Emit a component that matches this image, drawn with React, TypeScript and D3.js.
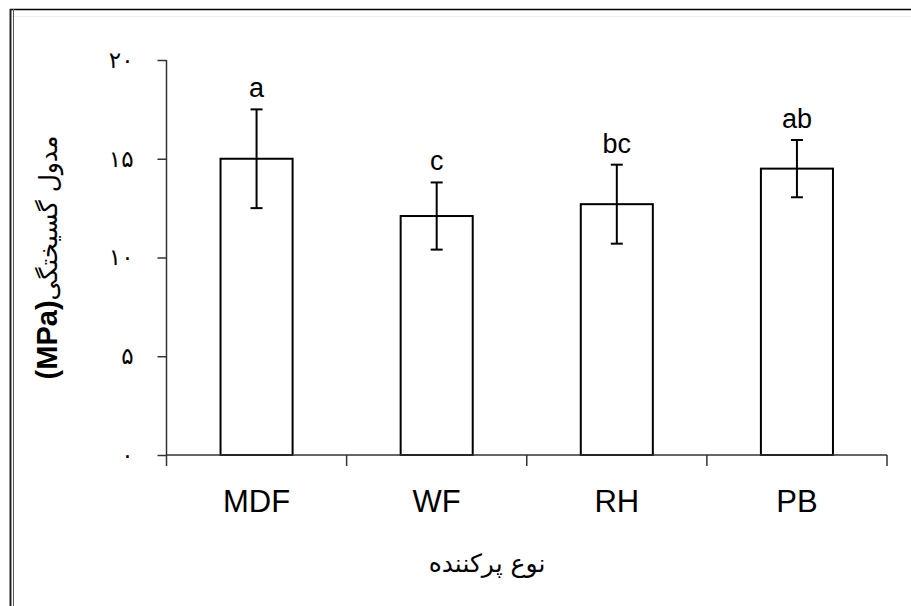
import { useEffect, useRef } from "react";
import * as d3 from "d3";

const categories = ["MDF", "WF", "RH", "PB"];
const means = [15.0, 12.1, 12.7, 14.5];
const errors = [2.5, 1.7, 2.0, 1.45];
const groups = ["a", "c", "bc", "ab"];
const yTicks = [0, 5, 10, 15, 20];
const yTickLabels = ["۰", "۵", "۱۰", "۱۵", "۲۰"];

const App = () => {
  const chartRef = useRef(null);

  useEffect(() => {
    const width = 911;
    const height = 606;
    const left = 166.5;
    const right = 887;
    const top = 60;
    const bottom = 455;

    const svg = d3
      .select(chartRef.current)
      .append("svg")
      .attr("width", width)
      .attr("height", height)
      .style("display", "block")
      .style("background", "#fff");

    // frame of the pasted picture
    svg.append("line").attr("x1", 10).attr("x2", width).attr("y1", 9.5).attr("y2", 9.5)
      .attr("stroke", "#000").attr("stroke-width", 1.5);
    svg.append("line").attr("x1", 10).attr("x2", width).attr("y1", 16.5).attr("y2", 16.5)
      .attr("stroke", "#eee").attr("stroke-width", 1);
    svg.append("line").attr("x1", 10.5).attr("x2", 10.5).attr("y1", 9).attr("y2", height)
      .attr("stroke", "#222").attr("stroke-width", 2);
    svg.append("line").attr("x1", 13.5).attr("x2", 13.5).attr("y1", 9).attr("y2", height)
      .attr("stroke", "#555").attr("stroke-width", 1);

    const xScale = d3
      .scaleBand()
      .domain(categories)
      .range([left, right])
      .paddingInner(0.6)
      .paddingOuter(0.3);

    const yScale = d3.scaleLinear().domain([0, 20]).range([bottom, top]);

    const data = categories.map((c, i) => ({
      cat: c,
      mean: means[i],
      err: errors[i],
      group: groups[i],
    }));

    // bars
    svg
      .selectAll("rect.bar")
      .data(data)
      .enter()
      .append("rect")
      .attr("class", "bar")
      .attr("x", (d) => xScale(d.cat)!)
      .attr("y", (d) => yScale(d.mean))
      .attr("width", xScale.bandwidth())
      .attr("height", (d) => bottom - yScale(d.mean))
      .attr("fill", "#fff")
      .attr("stroke", "#000")
      .attr("stroke-width", 2);

    // error bars
    const cx = (d: { cat: string }) => xScale(d.cat)! + xScale.bandwidth() / 2;
    const eb = svg.selectAll("g.err").data(data).enter().append("g").attr("class", "err");
    eb.append("line")
      .attr("x1", cx).attr("x2", cx)
      .attr("y1", (d) => yScale(d.mean + d.err))
      .attr("y2", (d) => yScale(d.mean - d.err))
      .attr("stroke", "#000").attr("stroke-width", 2);
    [1, -1].forEach((s) => {
      eb.append("line")
        .attr("x1", (d) => cx(d) - 6).attr("x2", (d) => cx(d) + 6)
        .attr("y1", (d) => yScale(d.mean + s * d.err))
        .attr("y2", (d) => yScale(d.mean + s * d.err))
        .attr("stroke", "#000").attr("stroke-width", 2);
    });

    // significance letters
    svg
      .selectAll("text.grp")
      .data(data)
      .enter()
      .append("text")
      .attr("class", "grp")
      .attr("x", cx)
      .attr("y", (d) => yScale(d.mean + d.err) - 12)
      .attr("text-anchor", "middle")
      .attr("font-family", "Liberation Sans, Arial, sans-serif")
      .attr("font-size", 27)
      .attr("fill", "#000")
      .text((d) => d.group);

    // y axis
    svg
      .append("g")
      .attr("transform", `translate(${left},0)`)
      .call(
        d3
          .axisLeft(yScale)
          .tickValues(yTicks)
          .tickSize(9)
          .tickPadding(24)
          .tickFormat((_, i) => yTickLabels[i]),
      )
      .call((g) => {
        g.select(".domain").remove();
        g.selectAll("line").attr("stroke", "#333").attr("stroke-width", 1.5);
        g.selectAll("text")
          .attr("font-family", "DejaVu Sans, sans-serif")
          .attr("font-size", 23)
          .attr("fill", "#000");
      });
    svg.append("line")
      .attr("x1", left).attr("x2", left).attr("y1", top).attr("y2", bottom + 11)
      .attr("stroke", "#333").attr("stroke-width", 1.5);

    // x axis
    svg.append("line")
      .attr("x1", left).attr("x2", right).attr("y1", bottom).attr("y2", bottom)
      .attr("stroke", "#333").attr("stroke-width", 1.5);
    const step = xScale.step();
    const bounds = categories.map((c) => xScale(c)! - step * 0.3).concat([right]);
    svg
      .selectAll("line.xtick")
      .data(bounds.slice(1))
      .enter()
      .append("line")
      .attr("class", "xtick")
      .attr("x1", (d) => d).attr("x2", (d) => d)
      .attr("y1", bottom).attr("y2", bottom + 11)
      .attr("stroke", "#333").attr("stroke-width", 1.5);

    svg
      .selectAll("text.xlab")
      .data(categories)
      .enter()
      .append("text")
      .attr("class", "xlab")
      .attr("x", (d) => xScale(d)! + xScale.bandwidth() / 2)
      .attr("y", 512)
      .attr("text-anchor", "middle")
      .attr("font-family", "Liberation Sans, Arial, sans-serif")
      .attr("font-size", 31)
      .attr("fill", "#000")
      .text((d) => d);

    // axis titles
    svg.append("text")
      .attr("x", 487)
      .attr("y", 572)
      .attr("text-anchor", "middle")
      .attr("direction", "rtl")
      .attr("font-family", "DejaVu Sans, sans-serif")
      .attr("font-size", 25)
      .attr("fill", "#000")
      .text("نوع پرکننده");

    const yt = svg.append("text")
      .attr("transform", `translate(57,${(top + bottom) / 2}) rotate(-90)`)
      .attr("text-anchor", "middle")
      .attr("direction", "rtl")
      .attr("fill", "#000");
    yt.append("tspan")
      .attr("font-family", "DejaVu Sans, sans-serif")
      .attr("font-size", 25)
      .text("مدول گسیختگی");
    yt.append("tspan")
      .attr("font-family", "Liberation Sans, Arial, sans-serif")
      .attr("font-weight", "bold")
      .attr("font-size", 29)
      .text("(MPa)");

    return () => {
      d3.select(chartRef.current).selectAll("*").remove();
    };
  }, []);

  return (
    <div ref={chartRef} style={{ position: "absolute", left: 0, top: 0 }}></div>
  );
};

export default App;
